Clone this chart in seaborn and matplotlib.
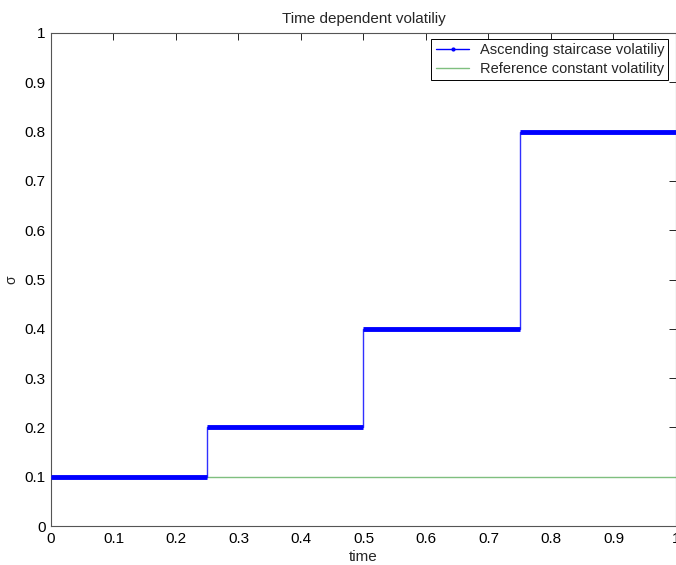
import matplotlib
matplotlib.use("Agg")
import matplotlib.pyplot as plt
import seaborn as sns
import numpy as np
import pandas as pd
from matplotlib.lines import Line2D
from matplotlib.ticker import FuncFormatter

# Data
step_times = [0.0, 0.25, 0.5, 0.75, 1.0]
step_sigma = [0.1, 0.2, 0.4, 0.8]
ref_times = [0.0, 1.0]
ref_sigma = [0.1, 0.1]
title = "Time dependent volatiliy"
legend_labels = ["Ascending staircase volatiliy", "Reference constant volatility"]

sns.set_style("white")
plt.rcParams['font.family'] = ['Liberation Sans', 'DejaVu Sans']
plt.rcParams['xtick.direction'] = 'in'
plt.rcParams['ytick.direction'] = 'in'

fig = plt.figure(figsize=(6.76, 5.65), dpi=100)
ax = fig.add_axes([0.0754, 0.069, 0.9246, 0.8726])

step_df = pd.DataFrame({"time": step_times, "sigma": step_sigma + [step_sigma[-1]]})
ref_df = pd.DataFrame({"time": ref_times, "sigma": ref_sigma})

sns.lineplot(data=step_df, x="time", y="sigma", drawstyle="steps-post",
             color="#3030ff", linewidth=1.0, ax=ax, zorder=3)
ax.hlines(step_sigma, step_times[:-1], step_times[1:], color="#0000ff",
          linewidth=3.5, zorder=4)
sns.lineplot(data=ref_df, x="time", y="sigma", color="#7fbf7f",
             linewidth=1.0, ax=ax, zorder=2)

ax.set_xlim(0, 1)
ax.set_ylim(0, 1)
ax.set_xticks(np.arange(0, 1.01, 0.1))
ax.set_yticks(np.arange(0, 1.01, 0.1))
fmt = FuncFormatter(lambda v, p: ("%g" % round(v, 2)))
ax.xaxis.set_major_formatter(fmt)
ax.yaxis.set_major_formatter(fmt)
ax.tick_params(axis='both', which='both', direction='in', length=5, width=0.6,
               labelsize=11, top=True, right=True, colors='black', pad=4)
for s in ax.spines.values():
    s.set_color('#555555')
    s.set_linewidth(0.8)
    s.set_visible(True)

ax.set_title(title, fontsize=11, pad=7)
ax.set_xlabel("time", fontsize=11, labelpad=3)
ax.set_ylabel("σ", fontsize=10, labelpad=4)

handles = [Line2D([0], [0], color="#0000ff", linewidth=1.0, marker='.', markersize=4),
           Line2D([0], [0], color="#7fbf7f", linewidth=1.0)]
leg = ax.legend(handles, legend_labels, loc='upper right', fontsize=10.5,
                frameon=True, fancybox=False, edgecolor='black', framealpha=1,
                borderpad=0.3, handlelength=2.3, handletextpad=0.7, labelspacing=0.3,
                borderaxespad=0, bbox_to_anchor=(0.988, 0.988))
leg.get_frame().set_linewidth(0.7)

fig.savefig("out.png", dpi=100)
